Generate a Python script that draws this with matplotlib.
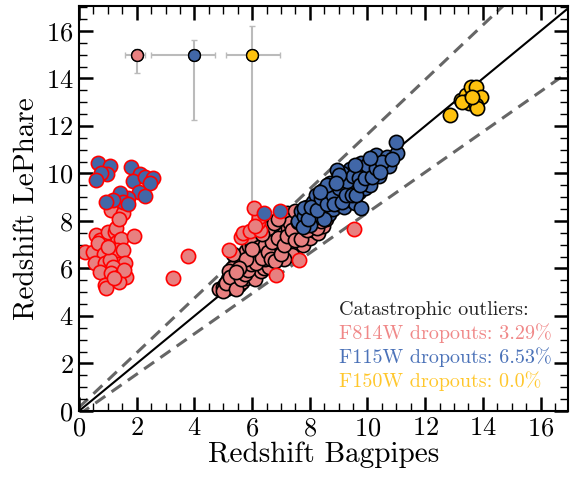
import numpy as np
import matplotlib
matplotlib.use('Agg')
import matplotlib.pyplot as plt

plt.rcParams['font.family'] = 'serif'
plt.rcParams['font.serif'] = ['cmr10']
plt.rcParams['mathtext.fontset'] = 'cm'
plt.rcParams['axes.formatter.use_mathtext'] = True

# colours of the three dropout samples
c_f814 = '#E88080'
c_f115 = '#4167A8'
c_f150 = '#FFC20E'

# F814W dropouts, good fits (black edge)
f814_good = [
    (4.85, 5.12), (5.0, 5.2), (5.1, 5.15), (5.2, 5.3), (5.3, 5.2), (5.25, 5.45), (5.4, 5.35),
    (5.45, 5.6), (5.35, 5.75), (5.5, 5.5), (5.55, 5.3), (5.6, 5.7), (5.15, 5.55), (5.05, 5.35),
    (5.5, 5.9), (5.65, 5.45), (5.7, 5.85), (5.75, 6.1), (5.8, 5.6), (5.85, 6.3), (5.9, 5.9),
    (5.95, 6.5), (6.0, 6.1), (6.05, 5.7), (6.1, 6.4), (6.15, 6.8), (6.2, 6.05), (5.6, 6.3),
    (5.7, 6.55), (5.8, 6.75), (5.9, 6.95), (6.0, 7.0), (6.1, 5.55), (6.25, 6.55), (6.3, 5.9),
    (5.65, 6.0), (5.5, 6.15), (5.4, 6.2), (5.3, 6.0), (5.2, 5.9), (5.35, 6.6), (6.3, 6.3),
    (6.35, 6.9), (6.4, 7.2), (6.45, 6.6), (6.5, 7.5), (6.55, 6.2), (6.6, 6.85), (6.65, 7.3),
    (6.7, 7.7), (6.75, 6.5), (6.8, 7.05), (6.85, 7.45), (6.9, 6.7), (6.95, 7.85), (7.0, 7.2),
    (6.4, 6.0), (6.6, 6.05), (6.2, 7.4), (6.3, 7.6), (6.5, 7.95), (6.15, 7.15), (6.45, 6.4),
    (7.05, 6.8), (7.1, 7.5), (7.15, 8.0), (7.2, 7.0), (7.25, 7.7), (7.3, 6.7), (7.35, 7.35),
    (7.4, 8.1), (7.45, 7.1), (7.5, 7.75), (7.55, 6.9), (7.6, 7.4), (7.65, 8.2), (7.7, 7.6),
    (7.75, 7.0), (7.8, 7.9), (7.0, 8.2), (7.2, 8.35), (7.4, 6.55), (7.1, 6.4), (7.85, 7.4),
    (7.9, 8.3), (7.95, 7.7), (8.0, 7.3), (8.05, 8.0), (8.1, 7.6), (8.2, 7.95), (8.3, 7.5),
    (8.35, 8.25), (8.45, 7.8), (8.55, 8.1), (8.0, 8.55), (7.85, 8.45), (6.05, 7.3), (5.95, 7.2),
    (5.0, 5.05), (5.1, 5.4), (5.25, 5.65), (5.45, 5.15), (5.6, 5.55), (5.75, 5.75), (5.85, 5.95),
    (5.95, 6.2), (6.05, 6.6), (6.15, 6.25), (6.25, 6.9), (6.35, 6.45), (6.45, 7.0), (6.55, 6.7),
    (6.65, 6.4), (6.7, 7.1), (6.8, 6.3), (6.9, 7.3), (7.0, 6.6), (7.1, 7.0), (7.2, 7.35),
    (7.3, 7.9), (7.4, 7.6), (7.5, 7.2), (7.6, 7.95), (7.7, 7.25), (7.9, 7.6), (8.15, 8.3),
    (8.25, 7.7), (8.4, 8.0), (6.55, 7.7), (6.75, 7.9), (6.35, 7.45), (5.8, 6.4), (5.55, 6.0),
    (5.45, 5.85), (6.0, 6.8), (6.9, 8.1), (7.5, 8.4), (8.6, 8.3),
]

# F814W dropouts, catastrophic outliers (red edge)
f814_out = [
    (0.20, 6.71), (0.48, 6.71), (0.60, 7.41), (0.72, 7.2), (0.66, 7.06), (0.85, 6.61), (1.0, 7.55),
    (1.12, 8.46), (1.24, 7.55), (1.29, 7.69), (1.32, 7.13), (1.47, 7.23), (1.52, 8.32), (1.89, 7.37),
    (1.24, 6.50), (1.32, 6.78), (1.52, 6.78), (0.54, 6.22), (0.89, 6.22), (1.06, 6.36), (1.58, 6.22),
    (1.18, 6.08), (0.72, 5.87), (1.12, 5.80), (1.47, 5.73), (1.64, 5.65), (1.38, 5.44), (0.89, 5.31),
    (0.95, 5.17), (1.38, 8.1), (1.0, 6.9), (1.55, 5.95), (1.2, 5.6),
    (3.25, 5.59), (3.77, 6.54),
    (5.21, 6.78), (5.62, 7.34), (5.67, 7.48), (5.94, 7.58), (6.28, 7.62), (6.2, 7.97), (6.25, 8.18),
    (6.08, 8.53), (6.1, 7.8),
    (6.83, 5.73), (7.64, 6.36), (9.54, 7.65),
]

# F115W dropouts, good fits
f115_good = [
    (7.6, 8.0), (7.7, 8.4), (7.8, 8.2), (7.9, 8.6), (8.0, 8.3), (8.1, 8.8), (8.15, 8.5), (8.2, 8.15),
    (8.3, 8.7), (8.35, 9.0), (8.4, 8.4), (8.5, 8.9), (8.55, 8.6), (8.6, 9.2), (8.65, 8.3), (8.7, 8.8),
    (8.75, 9.05), (8.8, 8.5), (8.85, 9.4), (8.9, 8.9), (8.95, 9.15), (9.0, 8.7), (9.05, 9.6),
    (9.1, 9.0), (9.15, 9.3), (9.2, 8.6), (9.25, 9.8), (9.3, 9.15), (9.35, 9.5), (9.4, 8.9),
    (9.45, 9.75), (9.5, 9.3), (9.55, 8.75), (9.6, 9.55), (9.65, 10.0), (9.7, 9.2), (9.8, 9.7),
    (9.9, 9.4), (9.95, 10.2), (10.0, 9.8), (10.1, 9.5), (10.2, 10.1), (10.29, 10.78), (10.4, 9.9),
    (10.6, 10.3), (10.69, 10.7), (10.75, 10.3), (11.04, 10.85), (10.98, 11.34), (9.4, 10.2),
    (9.1, 10.0), (8.95, 10.15), (8.7, 9.6), (8.45, 9.3), (8.2, 9.1), (9.77, 8.53), (9.77, 10.43),
    (9.85, 10.0), (9.2, 9.55), (8.5, 8.1), (8.0, 7.85), (7.75, 7.75),
    (7.8, 8.55), (7.95, 8.1), (8.05, 8.6), (8.25, 8.45), (8.4, 8.95), (8.6, 8.7), (8.8, 9.1),
    (8.85, 8.7), (9.0, 9.4), (9.1, 8.8), (9.25, 9.1), (9.3, 9.7), (9.45, 9.1), (9.5, 9.9),
    (9.6, 9.1), (9.7, 9.8), (9.75, 9.5), (9.9, 9.8), (10.0, 10.35), (10.15, 9.85), (10.3, 10.25),
    (10.5, 10.5), (10.45, 10.05), (10.85, 10.6), (8.6, 9.5), (8.35, 9.2), (9.0, 9.95),
    (9.55, 10.35), (10.1, 10.65), (8.9, 9.6),
]

# F115W dropouts, catastrophic outliers
f115_out = [
    (0.66, 10.45), (1.06, 10.3), (0.98, 9.98), (0.77, 10.0), (0.60, 9.73), (1.79, 10.29),
    (2.10, 9.98), (1.87, 9.70), (2.27, 9.87), (2.56, 9.80), (2.45, 9.59), (2.08, 9.23),
    (2.27, 9.05), (1.70, 8.96), (1.41, 9.17), (1.52, 8.81), (1.18, 8.88), (0.95, 8.79),
    (1.70, 8.72), (6.42, 8.35), (6.98, 8.43),
]

# F150W dropouts
f150_good = [
    (12.86, 12.46), (13.25, 13.09), (13.40, 13.31), (13.58, 13.65), (13.75, 13.65), (13.92, 13.23),
    (13.52, 13.09), (13.52, 12.95), (13.75, 12.88), (13.81, 12.74), (13.29, 13.02), (13.63, 13.23),
]

# typical uncertainties shown at the top
err_x = [2.0, 4.0, 6.0]
err_y = [15.0, 15.0, 15.0]
err_xlo = [0.42, 1.52, 0.9]
err_xhi = [0.3, 0.7, 0.95]
err_ylo = [0.77, 2.75, 7.5]
err_yhi = [0.25, 0.62, 1.22]
err_cols = [c_f814, c_f115, c_f150]

outlier_labels = ['Catastrophic outliers:', 'F814W dropouts: 3.29%',
                  'F115W dropouts: 6.53%', 'F150W dropouts: 0.0%']
label_cols = ['#222222', '#F08888', '#4B72B8', '#FFC72C']

fig = plt.figure(figsize=(5.71, 4.78), dpi=100)
ax = fig.add_axes([0.1384, 0.1402, 0.8563, 0.8472])

zz = np.linspace(0, 17, 10)
ax.plot(zz, zz, color='k', lw=1.5, zorder=1)
ax.plot(zz, zz + 0.15 * (1 + zz), color='#666666', lw=2.2, ls=(0, (4, 2.5)), zorder=1)
ax.plot(zz, zz - 0.15 * (1 + zz), color='#666666', lw=2.2, ls=(0, (4, 2.5)), zorder=1)

for i in range(3):
    ax.errorbar(err_x[i], err_y[i], xerr=[[err_xlo[i]], [err_xhi[i]]],
                yerr=[[err_ylo[i]], [err_yhi[i]]], fmt='o', color=err_cols[i],
                ms=8.5, mec='k', mew=1, ecolor='#BBBBBB', elinewidth=1.5, capsize=2.5,
                capthick=1.5, zorder=1)
    ax.plot(err_x[i], err_y[i], 'o', color=err_cols[i], ms=8.5, mec='k', mew=1, zorder=6)


def draw(pts, col, edge, z):
    a = np.array(pts)
    ax.scatter(a[:, 0], a[:, 1], s=105, color=col, edgecolors=edge, linewidths=1.2, zorder=z)


draw(f814_good, c_f814, 'k', 2)
draw(f814_out, c_f814, 'red', 2)
draw(f115_good, c_f115, 'k', 3)
draw(f115_out, c_f115, 'red', 3)
draw(f150_good, c_f150, 'k', 4)

ax.set_xlim(0, 16.95)
ax.set_ylim(0, 17.05)
ax.set_xticks(np.arange(0, 17, 2))
ax.set_yticks(np.arange(0, 17, 2))
ax.minorticks_on()
ax.xaxis.set_minor_locator(matplotlib.ticker.MultipleLocator(0.5))
ax.yaxis.set_minor_locator(matplotlib.ticker.MultipleLocator(0.5))
ax.tick_params(which='both', direction='in', top=True, right=True, labelsize=19)
ax.tick_params(which='major', length=10, width=1.8, pad=4)
ax.tick_params(which='minor', length=5.5, width=1.0)
for sp in ax.spines.values():
    sp.set_linewidth(1.5)

ax.set_xlabel('Redshift Bagpipes', fontsize=21, labelpad=1)
ax.set_ylabel('Redshift LePhare', fontsize=21, labelpad=4)

ys = [0.237, 0.178, 0.1185, 0.059]
for t, c, yy in zip(outlier_labels, label_cols, ys):
    ax.text(0.532, yy, t, color=c, fontsize=14.5, transform=ax.transAxes, va='baseline')

fig.savefig('out.png', dpi=100)
